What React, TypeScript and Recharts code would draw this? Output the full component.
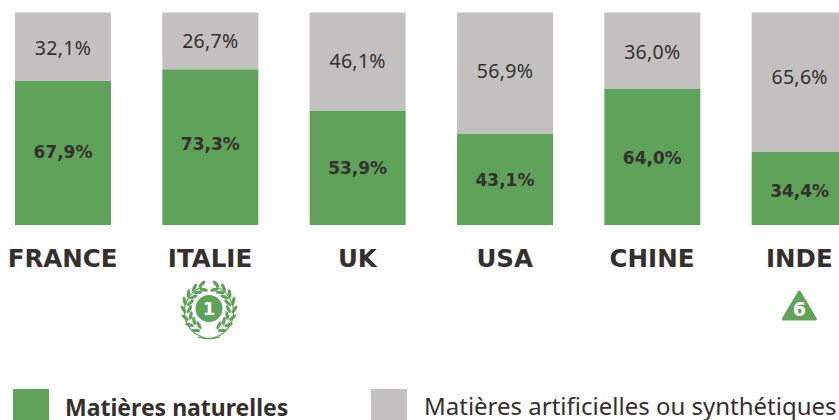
import { Bar, BarChart, LabelList, XAxis, YAxis } from 'recharts'

const countries = ['FRANCE', 'ITALIE', 'UK', 'USA', 'CHINE', 'INDE']
const naturalValues = [67.9, 73.3, 53.9, 43.1, 64.0, 34.4]
const artificialValues = [32.1, 26.7, 46.1, 56.9, 36.0, 65.6]
const laurelAngles = [16, 35, 54, 73, 92, 111, 130, 149]

const GREEN = '#5ea359'
const GREY = '#c2c1bf'
const INK = '#33302d'
const FONT = '"Noto Sans", sans-serif'
const HEAVY = '"DejaVu Sans", sans-serif'

// the labels in the original sit a little off the exact middle of each segment
const naturalShift = [-1, -3, 0, 1, 1, 2]
const artificialShift = [1, 0, -1, -2, 1, -5]

const data = countries.map((country, i) => ({
  country,
  natural: naturalValues[i],
  artificial: artificialValues[i],
}))

const pct = (v: any) => `${Number(v).toFixed(1).replace('.', ',')}%`

function SegmentLabel({ x, y, width, height, value, index, shifts, bold }: any) {
  return (
    <text
      x={x + width / 2}
      y={y + height / 2 + shifts[index]}
      dy="0.36em"
      textAnchor="middle"
      fill={INK}
      fontFamily={bold ? HEAVY : FONT}
      fontWeight={bold ? 700 : 400}
      fontSize={bold ? 17 : 19.5}
      letterSpacing={bold ? 0 : 0.3}
    >
      {pct(value)}
    </text>
  )
}

function Laurel({ cx, cy }: { cx: number; cy: number }) {
  const leaves: any[] = []
  for (const side of [-1, 1]) {
    for (const a of laurelAngles) {
      const rad = (a * Math.PI) / 180
      for (const [r, tilt] of [[25.5, 30], [19.5, -30]]) {
        const x = cx + side * r * Math.sin(rad)
        const y = cy - r * Math.cos(rad)
        leaves.push(
          <ellipse
            key={`${side}-${a}-${tilt}`}
            cx={x}
            cy={y}
            rx={4.4}
            ry={1.7}
            fill={GREEN}
            transform={`rotate(${side * (a + tilt)} ${x} ${y})`}
          />
        )
      }
    }
  }
  return (
    <g>
      <path
        d={`M${cx + 7} ${cy - 21.5} A22.5 22.5 0 0 1 ${cx - 11} ${cy + 28.5} M${cx - 7} ${cy - 21.5} A22.5 22.5 0 0 0 ${cx + 11} ${cy + 28.5}`}
        stroke={GREEN}
        strokeWidth={1.2}
        fill="none"
      />
      {leaves}
      <circle cx={cx} cy={cy} r={13.5} fill={GREEN} />
      <text x={cx} y={cy + 6.5} textAnchor="middle" fontFamily={HEAVY} fontWeight={700} fontSize={18} fill="#fff">1</text>
    </g>
  )
}

function Triangle({ cx, cy }: { cx: number; cy: number }) {
  return (
    <g>
      <path
        d={`M${cx} ${cy - 15} L${cx + 16} ${cy + 12} L${cx - 16} ${cy + 12} Z`}
        fill={GREEN}
        stroke={GREEN}
        strokeWidth={3}
        strokeLinejoin="round"
      />
      <text x={cx} y={cy + 9} textAnchor="middle" fontFamily={HEAVY} fontWeight={700} fontSize={19} fill="#fff">6</text>
    </g>
  )
}

function CountryTick({ x, payload }: any) {
  return (
    <g>
      <text x={x} y={267} textAnchor="middle" fontFamily={HEAVY} fontWeight={700} fontSize={24.5} fill={INK}>
        {payload.value}
      </text>
      {payload.value === 'ITALIE' && <Laurel cx={x - 1} cy={308.5} />}
      {payload.value === 'INDE' && <Triangle cx={x} cy={307} />}
    </g>
  )
}

function LegendItem({ left, boxLeft, top, color, label, bold, size }: any) {
  return (
    <>
      <div style={{ position: 'absolute', left: boxLeft, top: 389, width: 36, height: 31, background: color }} />
      <div
        style={{
          position: 'absolute',
          left,
          top,
          fontFamily: FONT,
          fontSize: size,
          fontWeight: bold ? 700 : 400,
          color: INK,
          whiteSpace: 'nowrap',
          lineHeight: `${size}px`,
        }}
      >
        {label}
      </div>
    </>
  )
}

export default function App() {
  return (
    <div style={{ position: 'absolute', left: 0, top: 0, width: 839, height: 420, overflow: 'hidden', background: '#fff' }}>
      <div style={{ position: 'absolute', left: -10.65, top: 0 }}>
        <BarChart width={884} height={440} data={data} margin={{ top: 12.5, right: 0, bottom: 0, left: 0 }} barSize={96}>
          <XAxis dataKey="country" height={215} axisLine={false} tickLine={false} interval={0} tick={<CountryTick />} />
          <YAxis hide domain={[0, 100]} />
          <Bar dataKey="natural" stackId="a" fill={GREEN} isAnimationActive={false}>
            <LabelList dataKey="natural" content={<SegmentLabel shifts={naturalShift} bold />} />
          </Bar>
          <Bar dataKey="artificial" stackId="a" fill={GREY} isAnimationActive={false}>
            <LabelList dataKey="artificial" content={<SegmentLabel shifts={artificialShift} />} />
          </Bar>
        </BarChart>
      </div>
      <LegendItem boxLeft={13} left={65} top={396} color={GREEN} label="Matières naturelles" bold size={23} />
      <LegendItem boxLeft={371} left={424} top={394} color={GREY} label="Matières artificielles ou synthétiques" size={24} />
    </div>
  )
}
